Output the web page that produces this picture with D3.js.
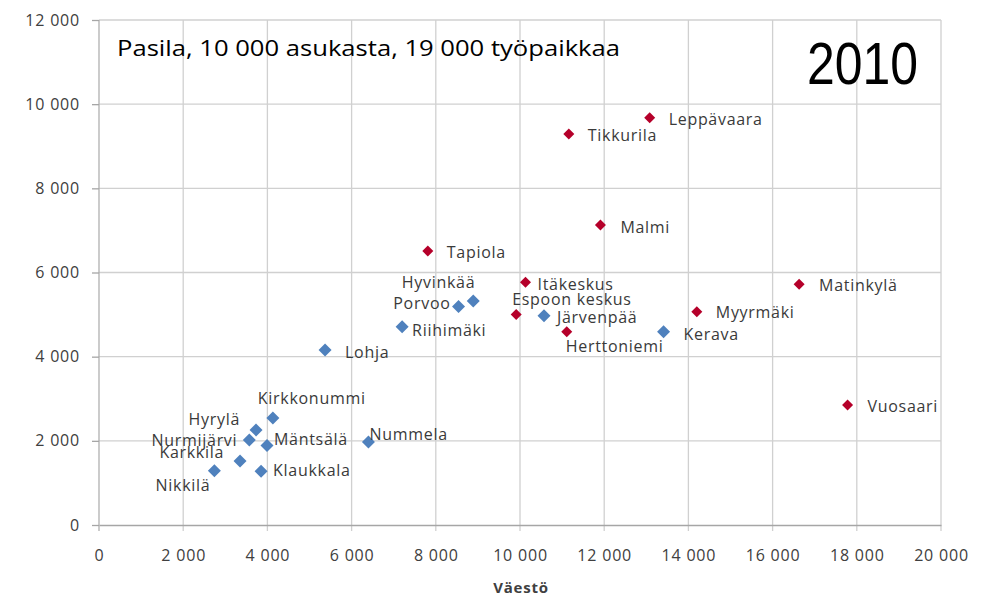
<!DOCTYPE html>
<html>
<head>
<meta charset="utf-8">
<script src="https://cdn.jsdelivr.net/npm/d3@7"></script>
<style>
  body { margin: 0; background: #fff; }
  svg { display: block; }
</style>
</head>
<body>
<script>
// Keskusten asukkaat (Väestö) ja työpaikat, 2010

// Punaiset: kaupunkikeskukset
var redNames = ["Leppävaara", "Tikkurila", "Malmi", "Tapiola", "Itäkeskus",
                "Espoon keskus", "Herttoniemi", "Myyrmäki", "Matinkylä", "Vuosaari"];
var redPop   = [13080, 11160, 11910, 7810, 10130, 9910, 11110, 14200, 16630, 17780];
var redJobs  = [9680, 9290, 7130, 6510, 5770, 5000, 4590, 5070, 5720, 2850];

// Siniset: kehyskuntien keskukset
var blueNames = ["Kerava", "Järvenpää", "Hyvinkää", "Porvoo", "Riihimäki", "Lohja",
                 "Nummela", "Kirkkonummi", "Hyrylä", "Nurmijärvi", "Mäntsälä",
                 "Karkkila", "Klaukkala", "Nikkilä"];
var bluePop  = [13410, 10570, 8890, 8540, 7200, 5370, 6400, 4130, 3730, 3570, 3990, 3350, 3850, 2740];
var blueJobs = [4590, 4970, 5320, 5190, 4710, 4160, 1970, 2540, 2260, 2020, 1890, 1520, 1280, 1290];

var xTicks = [0, 2000, 4000, 6000, 8000, 10000, 12000, 14000, 16000, 18000, 20000];
var yTicks = [0, 2000, 4000, 6000, 8000, 10000, 12000];

// label placement (anchor, dx, dy in px), the labels were moved by hand in the original
var labelPos = {
    "Leppävaara": ["start", 19, 2], "Tikkurila": ["start", 19, 1], "Malmi": ["start", 20, 2],
    "Tapiola": ["start", 19, 1], "Itäkeskus": ["start", 12, 2], "Espoon keskus": ["start", -4, -15],
    "Herttoniemi": ["start", -1, 14], "Myyrmäki": ["start", 19, 1], "Matinkylä": ["start", 20, 1],
    "Vuosaari": ["start", 20, 1], "Kerava": ["start", 20, 2], "Järvenpää": ["start", 13, 1],
    "Hyvinkää": ["end", 2, -19], "Porvoo": ["end", -8, -3], "Riihimäki": ["start", 10, 3],
    "Lohja": ["start", 20, 2], "Nummela": ["start", 1, -8], "Kirkkonummi": ["start", -15, -20],
    "Hyrylä": ["end", -16, -11], "Nurmijärvi": ["end", -12, 0], "Mäntsälä": ["start", 7, -6],
    "Karkkila": ["end", -16, -9], "Klaukkala": ["start", 12, -1], "Nikkilä": ["end", -4, 15]
};

var width = 983;
var height = 600;

var svg = d3.select("body").
    append("svg").
    attr("width", width).
    attr("height", height);

var xScale = d3.scaleLinear().domain([0, 20000]).range([99, 941]);
var yScale = d3.scaleLinear().domain([0, 12000]).range([525, 20]);

var fmt = function(d) { return d3.format(",")(d).replace(/,/g, " "); };

// Gridlines
svg.append("g").selectAll("line").
    data(yTicks.slice(1)).
    enter().
    append("line").
    attr("x1", xScale(0)).
    attr("x2", xScale(20000)).
    attr("y1", function(d) { return yScale(d); }).
    attr("y2", function(d) { return yScale(d); }).
    attr("stroke", "#d0d0d0").
    attr("stroke-width", 1.3);
svg.append("g").selectAll("line").
    data(xTicks).
    enter().
    append("line").
    attr("x1", function(d) { return xScale(d); }).
    attr("x2", function(d) { return xScale(d); }).
    attr("y1", yScale(12000)).
    attr("y2", yScale(0) + 6).
    attr("stroke", function(d) { return d === 0 ? "#b0b0b0" : "#d0d0d0"; }).
    attr("stroke-width", 1.3);

// Axes
var xAxis = d3.axisBottom(xScale).tickValues(xTicks).tickFormat(fmt).tickSize(0).tickPadding(25);
var yAxis = d3.axisLeft(yScale).tickValues(yTicks).tickFormat(fmt).tickSize(7).tickPadding(12);

var gx = svg.append("g").
    attr("transform", "translate(0," + yScale(0) + ")").
    call(xAxis);
var gy = svg.append("g").
    attr("transform", "translate(" + xScale(0) + ",0)").
    call(yAxis);

gx.select(".domain").attr("stroke", "#a6a6a6").attr("stroke-width", 1.3);
gy.select(".domain").remove();
gy.selectAll(".tick line").attr("stroke", "#a6a6a6").attr("stroke-width", 1.3);
[gx, gy].forEach(function(g) {
    g.selectAll(".tick text").
        attr("font-family", "Open Sans").
        attr("font-size", "16px").
        attr("letter-spacing", "0.8px").
        attr("fill", "#404040");
});

// Axis title
svg.append("text").
    attr("x", 521).
    attr("y", 593).
    attr("text-anchor", "middle").
    attr("font-family", "Open Sans").
    attr("font-weight", "bold").
    attr("font-size", "15px").
    attr("letter-spacing", "0.8px").
    attr("fill", "#404040").
    text("Väestö");

// Diamond markers
function drawSeries(names, pop, jobs, color, r) {
    var data = names.map(function(n, i) { return {name: n, x: pop[i], y: jobs[i]}; });
    var g = svg.append("g");
    g.selectAll("path").
        data(data).
        enter().
        append("path").
        attr("d", "M0," + (-r) + "L" + r + ",0L0," + r + "L" + (-r) + ",0Z").
        attr("transform", function(d) {
            return "translate(" + xScale(d.x) + "," + yScale(d.y) + ")"; }).
        attr("fill", color);
    g.selectAll("text").
        data(data).
        enter().
        append("text").
        attr("x", function(d) { return xScale(d.x) + labelPos[d.name][1]; }).
        attr("y", function(d) { return yScale(d.y) + labelPos[d.name][2]; }).
        attr("dy", "0.36em").
        attr("text-anchor", function(d) { return labelPos[d.name][0]; }).
        attr("font-family", "Open Sans").
        attr("font-size", "16px").
        attr("letter-spacing", "0.7px").
        attr("fill", "#3a3a3a").
        text(function(d) { return d.name; });
}

drawSeries(blueNames, bluePop, blueJobs, "#4f81bd", 6.5);
drawSeries(redNames, redPop, redJobs, "#b5002a", 5.5);

// Annotations
svg.append("text").
    attr("x", 117).
    attr("y", 56).
    attr("font-family", "Open Sans").
    attr("font-size", "21px").
    attr("textLength", 503).
    attr("lengthAdjust", "spacingAndGlyphs").
    attr("fill", "#000").
    text("Pasila, 10 000 asukasta, 19 000 työpaikkaa");

svg.append("text").
    attr("x", 807).
    attr("y", 84).
    attr("font-family", "Liberation Sans").
    attr("font-size", "59px").
    attr("textLength", 111).
    attr("lengthAdjust", "spacingAndGlyphs").
    attr("fill", "#000").
    text("2010");
</script>
</body>
</html>
